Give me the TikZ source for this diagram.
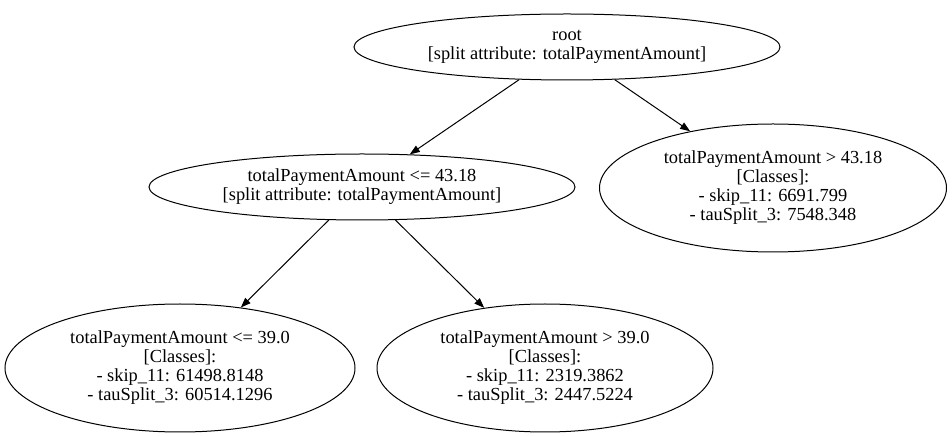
\documentclass[tikz,border=0pt]{standalone}
\usepackage{fontspec}
\setmainfont{Liberation Serif}
\usetikzlibrary{shapes.geometric, arrows.meta}
\def\hgt{435}

\begin{document}
\begin{tikzpicture}[x=0.75pt, y=0.75pt, line width=0.75pt,
  tnode/.style={draw, ellipse, inner sep=0pt, align=center,
    font=\fontsize{13.8pt}{14.25pt}\selectfont},
  edge/.style={-{Triangle[length=7.5pt, width=5.5pt]}}]
  \useasboundingbox (0,0) rectangle (952,\hgt);

  % split nodes
  \node[tnode, minimum width=319.5pt, minimum height=49.5pt] (root) at (567,\hgt-47)
    {root\\{[split attribute: totalPaymentAmount]}};
  \node[tnode, minimum width=319.5pt, minimum height=49.5pt] (le) at (362,\hgt-187)
    {totalPaymentAmount <= 43.18\\{[split attribute: totalPaymentAmount]}};

  % leaves
  \node[tnode, minimum width=260.25pt, minimum height=96pt] (gt) at (773,\hgt-188)
    {totalPaymentAmount > 43.18\\{[Classes]:}\\- skip\_11: 6691.799\\- tauSplit\_3: 7548.348};
  \node[tnode, minimum width=262.5pt, minimum height=96pt] (lele) at (180,\hgt-368)
    {totalPaymentAmount <= 39.0\\{[Classes]:}\\- skip\_11: 61498.8148\\- tauSplit\_3: 60514.1296};
  \node[tnode, minimum width=252pt, minimum height=96pt] (legt) at (545,\hgt-368)
    {totalPaymentAmount > 39.0\\{[Classes]:}\\- skip\_11: 2319.3862\\- tauSplit\_3: 2447.5224};

  \draw[edge] (root) -- (le);
  \draw[edge] (root) -- (gt);
  \draw[edge] (le) -- (lele);
  \draw[edge] (le) -- (legt);
\end{tikzpicture}
\end{document}
